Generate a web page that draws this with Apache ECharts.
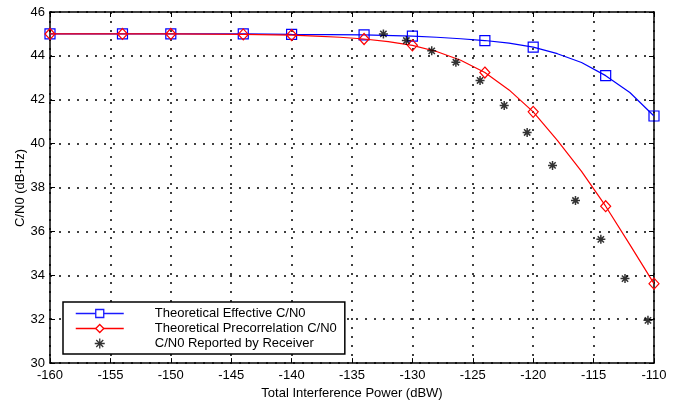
<!DOCTYPE html>
<html>
<head>
<meta charset="utf-8">
<script src="https://cdn.jsdelivr.net/npm/echarts@6/dist/echarts.min.js"></script>
<style>
html,body{margin:0;padding:0;background:#fff;}
#chart{width:684px;height:405px;}
</style>
</head>
<body>
<div id="chart"></div>
<script>
// Theoretical Effective C/N0 (line points) and marker positions
const effX = [-160,-154,-150,-144,-140,-134,-130,-128,-126,-124,-122,-120,-118,-116,-114,-112,-110];
const effY = [45,45,45,45,44.98,44.96,44.9,44.85,44.78,44.7,44.58,44.4,44.1,43.7,43.1,42.33,41.26];
const effMarkerX = [-160,-154,-150,-144,-140,-134,-130,-124,-120,-114,-110];

// Theoretical Precorrelation C/N0
const preX = [-160,-154,-150,-144,-140,-138,-136,-134,-132,-130,-128,-126,-124,-122,-120,-118,-116,-114,-112,-110];
const preY = [45,45,45,44.98,44.95,44.9,44.85,44.77,44.65,44.48,44.2,43.8,43.24,42.45,41.45,40.15,38.74,37.15,35.4,33.62];
const preMarkerX = [-160,-154,-150,-144,-140,-134,-130,-124,-120,-114,-110];

// C/N0 Reported by Receiver
const rxX = [-132.4,-130.5,-128.4,-126.4,-124.4,-122.4,-120.5,-118.4,-116.5,-114.4,-112.4,-110.5];
const rxY = [45.0,44.7,44.23,43.71,42.88,41.74,40.51,39.01,37.41,35.64,33.85,31.95];

const xTicks = {min:-160, max:-110, interval:5};
const yTicks = {min:30, max:46, interval:2};

const names = ['Theoretical Effective C/N0','Theoretical Precorrelation C/N0','C/N0 Reported by Receiver'];
const colors = ['#0000ff','#ff0000','#000000'];

const FONT = 'Liberation Sans, Arial, Helvetica, sans-serif';

function lineData(xs, ys, markers){
  return xs.map((x,i)=>{
    const item = {value:[x, ys[i]]};
    if (markers.indexOf(x) < 0) item.symbol = 'none';
    return item;
  });
}

const starPath = 'path://M0,5L10,5M5,0L5,10M1.5,1.5L8.5,8.5M8.5,1.5L1.5,8.5';

const grid = {left:50, right:30, top:12, bottom:41};
const dotted = {color:'#000', width:1.5, type:[2,7]};

const chart = echarts.init(document.getElementById('chart'), null, {renderer:'canvas'});
chart.setOption({
  animation:false,
  backgroundColor:'#fff',
  color:colors,
  textStyle:{fontFamily:FONT},
  grid: grid,
  xAxis:[{
    type:'value', min:xTicks.min, max:xTicks.max, interval:xTicks.interval,
    position:'bottom',
    name:'Total Interference Power (dBW)', nameLocation:'middle', nameGap:22,
    nameTextStyle:{fontFamily:FONT, fontSize:13, color:'#000'},
    axisLine:{onZero:false, lineStyle:{color:'#000', width:1.5}},
    axisTick:{inside:true, length:5, lineStyle:{color:'#000', width:1}},
    axisLabel:{fontFamily:FONT, fontSize:13, color:'#000', margin:6},
    splitLine:{show:true, lineStyle:dotted}
  },{
    type:'value', min:xTicks.min, max:xTicks.max, interval:xTicks.interval,
    position:'top',
    axisLine:{onZero:false, lineStyle:{color:'#000', width:1.5}},
    axisTick:{inside:true, length:5, lineStyle:{color:'#000', width:1}},
    axisLabel:{show:false},
    splitLine:{show:false}
  }],
  yAxis:[{
    type:'value', min:yTicks.min, max:yTicks.max, interval:yTicks.interval,
    position:'left',
    axisLine:{show:true, onZero:false, lineStyle:{color:'#000', width:1.5}},
    axisTick:{show:true, inside:true, length:5, lineStyle:{color:'#000', width:1}},
    axisLabel:{fontFamily:FONT, fontSize:13, color:'#000', margin:5},
    splitLine:{show:true, lineStyle:dotted}
  },{
    type:'value', min:yTicks.min, max:yTicks.max, interval:yTicks.interval,
    position:'right',
    axisLine:{show:true, onZero:false, lineStyle:{color:'#000', width:1.5}},
    axisTick:{show:true, inside:true, length:5, lineStyle:{color:'#000', width:1}},
    axisLabel:{show:false},
    splitLine:{show:false}
  }],
  graphic:[{
    type:'text', x:20, y:188, rotation:Math.PI/2,
    style:{text:'C/N0 (dB-Hz)', font:'13px '+FONT, fill:'#000', align:'center', verticalAlign:'middle'},
    z:10
  }],
  legend:{
    orient:'vertical', left:63, top:302,
    backgroundColor:'#fff', borderColor:'#000', borderWidth:1.5,
    padding:[5,8,4,12],
    itemWidth:48, itemHeight:10, itemGap:2,
    textStyle:{fontFamily:FONT, fontSize:13, color:'#000', padding:[0,0,0,26], lineHeight:13},
    data:[
      {name:names[0], itemStyle:{color:'#fff', borderColor:'#1a1aff', borderWidth:1.3}, lineStyle:{color:'#1a1aff', width:1.5}},
      {name:names[1], itemStyle:{color:'#fff', borderColor:colors[1], borderWidth:1.3}, lineStyle:{color:colors[1], width:1.5}},
      {name:names[2], itemStyle:{color:'rgba(0,0,0,0)', borderColor:colors[2], borderWidth:1.3}}
    ],
    z:20
  },
  series:[{
    name:names[0], type:'line', xAxisIndex:0, yAxisIndex:0,
    data:lineData(effX, effY, effMarkerX),
    symbol:'rect', symbolSize:10, showAllSymbol:true,
    lineStyle:{color:colors[0], width:1.2},
    itemStyle:{color:'rgba(0,0,0,0)', borderColor:colors[0], borderWidth:1.2},
    z:3
  },{
    name:names[1], type:'line', xAxisIndex:0, yAxisIndex:0,
    data:lineData(preX, preY, preMarkerX),
    symbol:'diamond', symbolSize:[10,11], showAllSymbol:true,
    lineStyle:{color:colors[1], width:1.2},
    itemStyle:{color:'rgba(0,0,0,0)', borderColor:colors[1], borderWidth:1.2},
    z:4
  },{
    name:names[2], type:'scatter', xAxisIndex:0, yAxisIndex:0,
    data:rxX.map((x,i)=>[x, rxY[i]]),
    symbol:starPath, symbolSize:9,
    itemStyle:{color:'rgba(0,0,0,0)', borderColor:colors[2], borderWidth:1.5},
    z:5
  }]
});
</script>
</body>
</html>
